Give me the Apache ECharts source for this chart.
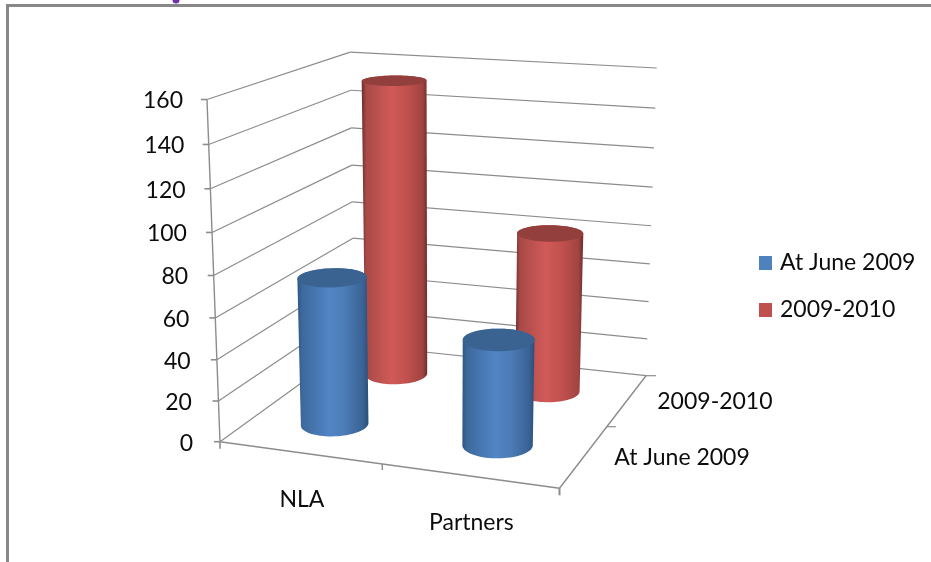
<!DOCTYPE html>
<html><head><meta charset="utf-8">
<style>html,body{margin:0;padding:0;background:#fff}#c{width:931px;height:562px}</style>
<script src="https://cdn.jsdelivr.net/npm/echarts@6/dist/echarts.min.js"></script>
</head><body><div id="c"></div>
<script>
const categories = ['NLA', 'Partners'];
const seriesNames = ['At June 2009', '2009-2010'];
const atJune2009 = [72.5, 51];
const y2009to2010 = [153, 82];
const yTicks = [0, 20, 40, 60, 80, 100, 120, 140, 160];

const FONT = '23px Lato, "Open Sans", sans-serif';
const TEXT = '#0c0c0c', LINE = '#8c8c8c';
// floor corners of the 3D box on screen and vanishing point of its verticals
const Q = [[220, 441.7], [559.5, 488.3], [646, 375.7], [354.5, 344.5]];
const V = [441, 6254];
const H = (function () {
  const [p0, p1, p2, p3] = Q;
  const dx1 = p1[0] - p2[0], dx2 = p3[0] - p2[0], sx = p0[0] - p1[0] + p2[0] - p3[0];
  const dy1 = p1[1] - p2[1], dy2 = p3[1] - p2[1], sy = p0[1] - p1[1] + p2[1] - p3[1];
  const den = dx1 * dy2 - dx2 * dy1;
  const g = (sx * dy2 - dx2 * sy) / den, h = (dx1 * sy - sx * dy1) / den;
  return { a: p1[0] - p0[0] + g * p1[0], b: p3[0] - p0[0] + h * p3[0], c: p0[0],
           d: p1[1] - p0[1] + g * p1[1], e: p3[1] - p0[1] + h * p3[1], f: p0[1], g, h };
})();
const T0 = (99.5 - 441.7) / (V[1] - 441.7), K = T0 / (1 - T0);
function project(u, w, v) {
  const X = H.a * u + H.b * w + H.c, Y = H.d * u + H.e * w + H.f, W = H.g * u + H.h * w + 1;
  const k = K * (1 - 0.0197 * u + 0.0087 * w);
  const n = W + v * k;
  return [(X + v * k * V[0]) / n, (Y + v * k * V[1]) / n];
}
function hull(pts) {
  const s = pts.slice().sort((a, b) => a[0] - b[0] || a[1] - b[1]);
  const cross = (o, a, b) => (a[0] - o[0]) * (b[1] - o[1]) - (a[1] - o[1]) * (b[0] - o[0]);
  const half = list => { const r = []; for (const p of list) { while (r.length > 1 && cross(r[r.length - 2], r[r.length - 1], p) <= 0) r.pop(); r.push(p); } r.pop(); return r; };
  return half(s).concat(half(s.slice().reverse()));
}
const RU = 0.098, RW = 0.106;
const palettes = [
  { cap: '#3b6391', stops: [[0, '#2f5785'], [0.07, '#3d699d'], [0.45, '#5285c5'], [0.65, '#4d7db8'], [0.92, '#3a6395'], [1, '#2b4e7b']] },
  { cap: '#933f3d', stops: [[0, '#6f2b2a'], [0.07, '#a84a48'], [0.45, '#d15a58'], [0.7, '#c0504d'], [0.93, '#a04442'], [1, '#6e2c2b']] }
];
function frac(params, api, xv, yv) {
  const c = api.coord([xv, yv]), s = params.coordSys;
  return { u: (c[0] - s.x) / s.width, v: (s.y + s.height - c[1]) / s.height };
}
function renderCylinder(sIdx) {
  return function (params, api) {
    const f = frac(params, api, api.value(0), api.value(1));
    const w0 = (sIdx + 0.5) / seriesNames.length;
    const ring = v => { const r = []; for (let i = 0; i < 72; i++) { const t = i / 72 * Math.PI * 2; r.push(project(f.u + RU * Math.cos(t), w0 + RW * Math.sin(t), v)); } return r; };
    const top = ring(f.v), bot = ring(0), pal = palettes[sIdx];
    return { type: 'group', children: [
      { type: 'polygon', shape: { points: hull(top.concat(bot)) },
        style: { fill: new echarts.graphic.LinearGradient(0, 0, 1, 0, pal.stops.map(s => ({ offset: s[0], color: s[1] }))) } },
      { type: 'polygon', shape: { points: top }, style: { fill: pal.cap } }
    ] };
  };
}
function line(a, b, w) { return { type: 'line', shape: { x1: a[0], y1: a[1], x2: b[0], y2: b[1] }, style: { stroke: LINE, lineWidth: w || 1.2 } }; }
function label(text, x, y, align) { return { type: 'text', style: { text, x, y, align, verticalAlign: 'middle', fill: TEXT, font: FONT } }; }
function renderFrame(params, api) {
  const tick = api.value(1);
  const v = frac(params, api, 0, tick).v;
  const fl = project(0, 0, v), bl = project(0, 1, v), br = project(1, 1, v);
  const kids = [line(fl, bl), line(bl, br), line([fl[0] - 6, fl[1]], fl, 1.6),
    label(String(tick), fl[0] - 24 - 3 * (1 - v), fl[1] + 1.5, 'right')];
  if (params.dataIndex === 0) {
    const fr = project(1, 0, 0);
    kids.push(line(project(0, 0, 0), project(0, 0, 1), 1.4), line(project(0, 0, 0), fr, 1.6), line(fr, br, 1.4));
    kids.push(line(br, [br[0] + 10, br[1]], 1.2), line(fr, [fr[0], fr[1] + 7], 2), line(fl, [fl[0], fl[1] + 7], 1.6));
    const mid = project(0.5, 0, 0); kids.push(line(mid, [mid[0], mid[1] + 6], 1.4));
    const dm = project(1, 0.5, 0); kids.push(line(dm, [dm[0] + 9, dm[1]], 1.2));
    categories.forEach((c, i) => {
      const p = project(frac(params, api, i, 0).u, 0, 0);
      kids.push(label(c, p[0] + 2.5, p[1] + 46.5, 'center'));
    });
    seriesNames.forEach((n, i) => {
      const p = project(1, (i + 0.5) / seriesNames.length, 0);
      kids.push(label(n, p[0] + 30, p[1] + 1.5, 'left'));
    });
  }
  return { type: 'group', children: kids };
}

const chart = echarts.init(document.getElementById('c'), null, { renderer: 'canvas' });
chart.setOption({
  animation: false,
  backgroundColor: '#fff',
  grid: { left: 0, top: 0, right: 0, bottom: 0 },
  xAxis: { type: 'category', data: categories, show: false },
  yAxis: { type: 'value', min: 0, max: 160, interval: 20, show: false },
  legend: {
    data: seriesNames, orient: 'vertical', left: 759, top: 250, padding: 0, icon: 'rect',
    itemWidth: 13, itemHeight: 14, itemGap: 21, selectedMode: false,
    textStyle: { color: TEXT, fontFamily: 'Lato', fontSize: 23, lineHeight: 26, padding: [0, 0, 0, 3] }
  },
  graphic: [
    { type: 'rect', silent: true, z: 10, shape: { x: 6, y: 4, width: 3, height: 558 }, style: { fill: '#888' } },
    { type: 'rect', silent: true, z: 10, shape: { x: 6, y: 4, width: 925, height: 3 }, style: { fill: '#888' } },
    { type: 'circle', silent: true, z: 9, shape: { cx: 176, cy: 0, r: 3.5 }, style: { fill: '#7030a0' } }
  ],
  series: [
    { name: 'frame', type: 'custom', z: 1, silent: true, renderItem: renderFrame, data: yTicks.map(t => [0, t]), encode: { x: 0, y: 1 } },
    { name: seriesNames[0], type: 'custom', z: 3, silent: true, renderItem: renderCylinder(0), itemStyle: { color: '#4f81bd' },
      data: atJune2009.map((d, i) => [i, d]), encode: { x: 0, y: 1 } },
    { name: seriesNames[1], type: 'custom', z: 2, silent: true, renderItem: renderCylinder(1), itemStyle: { color: '#c0504d' },
      data: y2009to2010.map((d, i) => [i, d]), encode: { x: 0, y: 1 } }
  ]
});
</script></body></html>
